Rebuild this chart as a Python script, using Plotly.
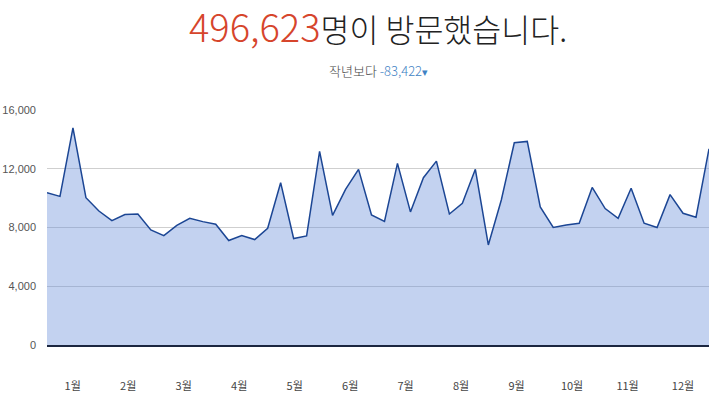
import numpy as np
import plotly.graph_objects as go

# Weekly visitor counts (52 weeks)
weeks = list(range(52))
visitors = [10370, 10120, 14790, 10030, 9120, 8470, 8880, 8920, 7830, 7450,
            8150, 8630, 8400, 8220, 7110, 7450, 7180, 7950, 11050, 7250,
            7430, 13180, 8830, 10600, 11960, 8850, 8420, 12370, 9060, 11390,
            12520, 8920, 9650, 11960, 6810, 9870, 13770, 13860, 9400, 8000,
            8170, 8290, 10730, 9290, 8630, 10670, 8290, 8000, 10240, 8970,
            8700, 13360]

month_labels = ["1월", "2월", "3월", "4월", "5월", "6월",
                "7월", "8월", "9월", "10월", "11월", "12월"]
y_ticks = [0, 4000, 8000, 12000, 16000]

total_text = "496,623"
diff_text = "-83,422"

month_pos = list(np.linspace(1.98, 49.0, len(month_labels)))

fig = go.Figure()
fig.add_trace(go.Scatter(
    x=weeks, y=visitors, mode="lines",
    line=dict(color="#1c4694", width=1.5),
    fill="tozeroy", fillcolor="rgba(105,142,218,0.40)",
    hoverinfo="skip", showlegend=False,
))

fig.update_layout(
    width=720, height=398,
    margin=dict(l=47, r=11, t=110, b=53),
    paper_bgcolor="white", plot_bgcolor="white",
    font=dict(family="Noto Sans CJK KR", color="#444"),
    xaxis=dict(
        range=[0, 51], tickvals=month_pos, ticktext=month_labels,
        showgrid=False, zeroline=False, automargin=False,
        showline=True, linecolor="#1b2640", linewidth=1.5,
        ticks="", ticklabelstandoff=30,
        tickfont=dict(size=11, color="#444", family="Noto Sans CJK KR"),
    ),
    yaxis=dict(
        range=[0, 16000], tickvals=y_ticks, tickformat=",",
        showgrid=True, gridcolor="#cfcfcf", gridwidth=1,
        zeroline=False, showline=False, ticks="", automargin=False,
        ticklabelstandoff=10,
        tickfont=dict(size=11, color="#555", family="Liberation Sans"),
    ),
)

fig.add_annotation(
    xref="paper", yref="paper", x=0.5, y=(345 - 25) / 235,
    xanchor="center", yanchor="middle", showarrow=False,
    text=(f"<span style='color:#d6452c;font-size:38px'>{total_text}</span>"
          "명이 방문했습니다."),
    font=dict(size=31.5, color="#222", family="Noto Sans CJK KR", weight=300),
)

fig.add_annotation(
    xref="paper", yref="paper", x=0.5, y=(345 - 70) / 235,
    xanchor="center", yanchor="middle", showarrow=False,
    text=(f"작년보다 <span style='color:#3f82c4'>{diff_text}</span>"
          "<span style='color:#3f82c4;font-size:11px'>▾</span>"),
    font=dict(size=13, color="#444", family="Noto Sans CJK KR", weight=300),
)

fig.write_html("out.html",
               config={"displayModeBar": False},
               post_script="document.body.style.margin='0';"
                           "document.body.style.padding='0';")
